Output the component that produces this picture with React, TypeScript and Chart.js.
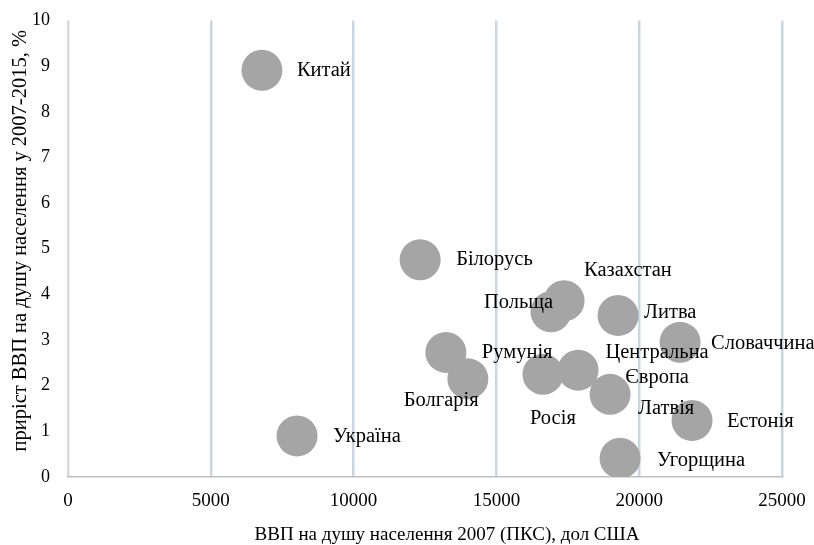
import React, { useEffect, useRef } from "react";
import { Chart, registerables } from "chart.js";

Chart.register(...registerables);

const countries = [
  "Китай", "Україна", "Білорусь", "Казахстан", "Польща", "Литва", "Словаччина",
  "Румунія", "Болгарія", "Росія", "Центральна Європа", "Латвія", "Естонія", "Угорщина",
];
const gdpPerCapita2007 = [6790, 8020, 12330, 17370, 16910, 19260, 21430, 13230, 14000, 16630, 17860, 18980, 21850, 19330];
const gdpGrowth = [8.91, 0.9, 4.76, 3.86, 3.62, 3.54, 2.95, 2.73, 2.15, 2.25, 2.34, 1.81, 1.24, 0.41];
const xTicks = [0, 5000, 10000, 15000, 20000, 25000];
const yTicks = [0, 1, 2, 3, 4, 5, 6, 7, 8, 9, 10];

const xTitle = "ВВП на душу населення 2007 (ПКС), дол США";
const yTitle = "приріст ВВП на душу населення у 2007-2015, %";

// label placement (pixel offsets from bubble centre), kept apart from data
const labelPlacement: Record<string, { dx: number; dy: number; align: CanvasTextAlign; lines?: string[] }> = {
  "Китай": { dx: 35, dy: 0, align: "left" },
  "Україна": { dx: 36, dy: 1, align: "left" },
  "Білорусь": { dx: 36, dy: 0, align: "left" },
  "Казахстан": { dx: 20, dy: -30, align: "left" },
  "Польща": { dx: -67, dy: -9, align: "left" },
  "Литва": { dx: 26, dy: -3, align: "left" },
  "Словаччина": { dx: 31, dy: 1, align: "left" },
  "Румунія": { dx: 36, dy: 0, align: "left" },
  "Болгарія": { dx: -64, dy: 22, align: "left" },
  "Росія": { dx: -13, dy: 44, align: "left" },
  "Центральна Європа": { dx: 79, dy: -18, align: "center", lines: ["Центральна", "Європа"] },
  "Латвія": { dx: 28, dy: 14, align: "left" },
  "Естонія": { dx: 35, dy: 1, align: "left" },
  "Угорщина": { dx: 37, dy: 2, align: "left" },
};

const FONT = "'Liberation Serif', 'Times New Roman', serif";

const labelPlugin = {
  id: "bubbleLabels",
  afterDatasetsDraw(chart: any) {
    const ctx = chart.ctx;
    const meta = chart.getDatasetMeta(0);
    ctx.save();
    ctx.fillStyle = "#000";
    ctx.font = `20.5px ${FONT}`;
    ctx.textBaseline = "middle";
    meta.data.forEach((pt: any, i: number) => {
      const name = countries[i];
      const p = labelPlacement[name];
      const lines = p.lines || [name];
      ctx.textAlign = p.align;
      lines.forEach((ln, k) => {
        ctx.fillText(ln, pt.x + p.dx, pt.y + p.dy + k * 25);
      });
    });
    ctx.restore();
  },
};

const titlePlugin = {
  id: "axisTitles",
  afterDraw(chart: any) {
    const ctx = chart.ctx;
    const area = chart.chartArea;
    ctx.save();
    ctx.fillStyle = "#000";
    ctx.textAlign = "center";
    ctx.textBaseline = "middle";
    ctx.font = `19px ${FONT}`;
    ctx.fillText(xTitle, (area.left + area.right) / 2 + 22, chart.height - 10);
    ctx.translate(21, (area.top + area.bottom) / 2 - 8);
    ctx.rotate(-Math.PI / 2);
    ctx.font = `20.5px ${FONT}`;
    ctx.fillText(yTitle, 0, 0);
    ctx.restore();
  },
};

export default function App() {
  const ref = useRef<HTMLCanvasElement>(null);
  useEffect(() => {
    if (!ref.current) return;
    const chart = new Chart(ref.current, {
      type: "scatter",
      data: {
        datasets: [
          {
            data: countries.map((_, i) => ({ x: gdpPerCapita2007[i], y: gdpGrowth[i] })),
            backgroundColor: "#a5a5a5",
            borderWidth: 0,
            pointRadius: 20.5,
            pointHoverRadius: 20.5,
          },
        ],
      },
      options: {
        animation: false,
        responsive: false,
        events: [],
        layout: { padding: { left: 0, top: 19, right: 32, bottom: 0 } },
        plugins: { legend: { display: false }, tooltip: { enabled: false } },
        scales: {
          x: {
            type: "linear",
            min: 0,
            max: 25000,
            afterFit: (s: any) => { s.height = 68; s.paddingLeft = 0; s.paddingRight = 0; },
            afterBuildTicks: (s: any) => { s.ticks = xTicks.map((v) => ({ value: v })); },
            grid: {
              drawTicks: false,
              lineWidth: 2.5,
              color: (c: any) => (c.index === 0 ? "#d9d9d9" : "#c8d7e6"),
            },
            border: { display: true, color: "#bfbfbf", width: 1.5 },
            ticks: {
              padding: 13,
              color: "#000",
              font: { family: FONT, size: 19 },
              maxRotation: 0,
              callback: (v: any) => String(v),
            },
          },
          y: {
            type: "linear",
            min: 0,
            max: 10,
            afterFit: (s: any) => { s.width = 68; s.paddingTop = 0; s.paddingBottom = 0; },
            afterBuildTicks: (s: any) => { s.ticks = yTicks.map((v) => ({ value: v })); },
            grid: { display: false, drawTicks: false },
            border: { display: false },
            ticks: { padding: 18, color: "#000", font: { family: FONT, size: 18 }, callback: (v: any) => String(v) },
          },
        },
      },
      plugins: [labelPlugin, titlePlugin],
    });
    return () => chart.destroy();
  }, []);
  return (
    <div style={{ position: "fixed", left: 0, top: 0, width: 814, height: 545, background: "#fff" }}>
      <canvas ref={ref} width={814} height={545} style={{ width: 814, height: 545 }} />
    </div>
  );
}
